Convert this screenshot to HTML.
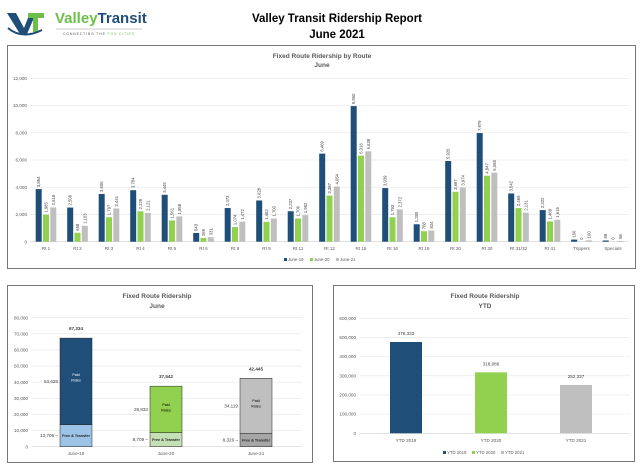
<!DOCTYPE html>
<html><head><meta charset="utf-8"><style>
html,body{margin:0;padding:0;background:#fff;}
svg{display:block;font-family:"Liberation Sans",sans-serif;}
</style></head><body>
<svg id="s" width="640" height="466" viewBox="0 0 640 466" xmlns="http://www.w3.org/2000/svg">
<g>
 <path d="M7 13 L16 13 L24 28 L30 13 L36 13 L27 34 L20 34 Z" fill="#1f4e79"/>
 <path d="M28 13 L44 13 L44 18 L38 18 L38 32 L33 32 L33 18 L28 18 Z" fill="#6cc04a"/>
 <path d="M8 28 Q22 40 42 30" stroke="#1f4e79" stroke-width="2" fill="none"/>
 <text x="55" y="23" font-size="15" font-weight="bold" fill="#6cc04a">Valley<tspan fill="#1f4e79">Transit</tspan></text>
 <line x1="56" y1="29" x2="142" y2="29" stroke="#999" stroke-width="0.5"/>
 <text x="99" y="35" font-size="3.5" fill="#555" text-anchor="middle" letter-spacing="0.8">CONNECTING THE <tspan fill="#6cc04a">FOX CITIES</tspan></text>
</g>
<text x="337" y="22" font-size="11.5" font-weight="bold" text-anchor="middle" fill="#000">Valley Transit Ridership Report</text>
<text x="337" y="38" font-size="11.5" font-weight="bold" text-anchor="middle" fill="#000">June 2021</text>

<rect x="7.5" y="45.5" width="628" height="223" fill="#fff" stroke="#777"/>
<text x="322" y="58" font-size="6.5" font-weight="bold" fill="#595959" text-anchor="middle">Fixed Route Ridership by Route</text>
<text x="322" y="67" font-size="6.5" font-weight="bold" fill="#595959" text-anchor="middle">June</text>
<g id="top"></g>

<rect x="7.5" y="285.5" width="305" height="177" fill="#fff" stroke="#777"/>
<text x="157" y="298" font-size="6.5" font-weight="bold" fill="#595959" text-anchor="middle">Fixed Route Ridership</text>
<text x="157" y="308" font-size="6.5" font-weight="bold" fill="#595959" text-anchor="middle">June</text>
<g id="bl"></g>

<rect x="333.5" y="285.5" width="301" height="176" fill="#fff" stroke="#777"/>
<text x="485" y="298" font-size="6.5" font-weight="bold" fill="#595959" text-anchor="middle">Fixed Route Ridership</text>
<text x="485" y="308" font-size="6.5" font-weight="bold" fill="#595959" text-anchor="middle">YTD</text>
<g id="br"></g>
</svg>
<script>
const routes=["Rt 1","Rt 2","Rt 3","Rt 4","Rt 5","Rt 6","Rt 8","Rt 9","Rt 11","Rt 12","Rt 15","Rt 16","Rt 19","Rt 20","Rt 30","Rt 31/32","Rt 41","Trippers","Specials"];
const june19=[3864,2508,3506,3784,3445,643,2472,3028,2237,6469,9960,3939,1280,5926,7979,3542,2322,156,89];
const june20=[1985,658,1797,2229,1561,269,1074,1462,1706,3387,6316,1793,768,3667,4847,2469,1489,0,0];
const june21=[2518,1163,2441,2121,1858,331,1472,1700,1952,4054,6638,2372,824,3974,5068,2131,1615,100,58];
const routeTicks=[0,2000,4000,6000,8000,10000,12000];
const seriesNames=["June-19","June-20","June-21"];

const monthCats=["June-19","June-20","June-21"];
const freeRides=[13706,8709,8326];
const paidRides=[53628,28833,34119];
const monthTicks=[0,10000,20000,30000,40000,50000,60000,70000,80000];

const ytdCats=["YTD 2019","YTD 2020","YTD 2021"];
const ytdValues=[476333,318086,252337];
const ytdTicks=[0,100000,200000,300000,400000,500000,600000];

const NS="http://www.w3.org/2000/svg";
const cols=["#1f4e79","#92d050","#bfbfbf"];
const fmt=v=>v.toLocaleString("en-US");
function mk(p,t,a,txt){const e=document.createElementNS(NS,t);for(const k in a)e.setAttribute(k,a[k]);if(txt!==undefined)e.textContent=txt;p.appendChild(e);return e;}

(function(){
 const g=document.getElementById("top");
 const y0=241.7,yTop=78.3,max=12000,L=30.25,R=628.75,bw=(R-L)/routes.length;
 const y=v=>y0-(v/max)*(y0-yTop);
 routeTicks.forEach(t=>{
  const l=mk(g,"line",{x1:L,x2:R,y1:y(t),y2:y(t),stroke:t?"#e4e4e4":"#d0d0d0","stroke-width":0.6});
  
  
  const tx=mk(g,"text",{x:27,y:y(t)+1.6,"font-size":4.6,fill:"#595959","text-anchor":"end"},fmt(t));
  
  
 });
 const data=[june19,june20,june21];
 routes.forEach((r,i)=>{
  const c=L+bw*(i+0.5);
  data.forEach((s,k)=>{
   const w=6,x=c+(k-1)*7.3-w/2,v=s[i];
   const b=mk(g,"rect",{x:x,y:y(v),width:w,height:y0-y(v),fill:cols[k]});
   
   
   const tx=mk(g,"text",{transform:`translate(${x+w/2+1.5},${y(v)-2}) rotate(-90)`,"font-size":4.2,fill:"#404040"},fmt(v));
   
   
  });
  const tl=mk(g,"text",{x:c,y:250,"font-size":4.6,fill:"#595959","text-anchor":"middle"},r);
  
  
 });
 seriesNames.forEach((n,k)=>{
  const x=284+k*26;
  const sq=mk(g,"rect",{x:x,y:258,width:3,height:3,fill:cols[k]});
  
  
  const t=mk(g,"text",{x:x+4,y:261,"font-size":4.3,fill:"#595959"},n);
  
  
 });
})();

(function(){
 const g=document.getElementById("bl");
 const y0=446.7,yTop=317.7,max=80000,L=32,R=302;
 const y=v=>y0-(v/max)*(y0-yTop);
 const centers=[76,166,256];
 const paidCol=["#1f4e79","#92d050","#bfbfbf"],freeCol=["#9dc3e6","#c5e0b4","#a6a6a6"],paidTxt=["#fff","#000","#000"];
 monthTicks.forEach(t=>{
  const l=mk(g,"line",{x1:L,x2:R,y1:y(t),y2:y(t),stroke:t?"#e4e4e4":"#d0d0d0","stroke-width":0.6});
  
  
  const tx=mk(g,"text",{x:28,y:y(t)+1.6,"font-size":4.6,fill:"#595959","text-anchor":"end"},fmt(t));
  
  
 });
 monthCats.forEach((c,i)=>{
  const cx=centers[i],w=32,x=cx-w/2,f=freeRides[i],p=paidRides[i],tot=f+p;
  const fr=mk(g,"rect",{x:x,y:y(f),width:w,height:y0-y(f),fill:freeCol[i],stroke:"#222","stroke-width":0.5});
  
  
  const pr=mk(g,"rect",{x:x,y:y(tot),width:w,height:y(f)-y(tot),fill:paidCol[i],stroke:"#222","stroke-width":0.5});
  
  
  const ft=mk(g,"text",{x:cx,y:(y(f)+y0)/2+1.5,"font-size":3.8,"font-weight":"bold",fill:"#222","text-anchor":"middle"},"Free & Transfer");
  
  
  const pm=y(f)-(y(f)-y(tot))*0.55;
  const p1=mk(g,"text",{x:cx,y:pm-1,"font-size":3.8,fill:paidTxt[i],"text-anchor":"middle"},"Paid");
  
  
  const p2=mk(g,"text",{x:cx,y:pm+4.5,"font-size":3.8,fill:paidTxt[i],"text-anchor":"middle"},"Rides");
  
  
  const tt=mk(g,"text",{x:cx,y:y(tot)-8,"font-size":4.6,"font-weight":"bold",fill:"#404040","text-anchor":"middle"},fmt(tot));
  
  
  const pl=mk(g,"text",{x:x-2,y:(y(f)+y(tot))/2+1.5,"font-size":4.6,fill:"#404040","text-anchor":"end"},fmt(p));
  
  
  const fl=mk(g,"text",{x:x-2,y:Math.min((y(f)+y0)/2+1.5,y0-2),"font-size":4.6,fill:"#404040","text-anchor":"end"},fmt(f)+" \u2013");
  
  
  const xl=mk(g,"text",{x:cx,y:455,"font-size":4.6,fill:"#595959","text-anchor":"middle"},c);
  
  
 });
})();

(function(){
 const g=document.getElementById("br");
 const y0=433.3,yTop=318.3,max=600000,L=360,R=630;
 const y=v=>y0-(v/max)*(y0-yTop);
 const centers=[406,491,576];
 ytdTicks.forEach(t=>{
  const l=mk(g,"line",{x1:L,x2:R,y1:y(t),y2:y(t),stroke:t?"#e4e4e4":"#d0d0d0","stroke-width":0.6});
  
  
  const tx=mk(g,"text",{x:356,y:y(t)+1.6,"font-size":4.6,fill:"#595959","text-anchor":"end"},fmt(t));
  
  
 });
 ytdCats.forEach((c,i)=>{
  const cx=centers[i],w=32,v=ytdValues[i];
  const b=mk(g,"rect",{x:cx-w/2,y:y(v),width:w,height:y0-y(v),fill:cols[i]});
  
  
  const t=mk(g,"text",{x:cx,y:y(v)-7,"font-size":4.6,fill:"#404040","text-anchor":"middle"},fmt(v));
  
  
  const xl=mk(g,"text",{x:cx,y:442,"font-size":4.6,fill:"#595959","text-anchor":"middle"},c);
  
  
  const lx=443+i*29;
  const sq=mk(g,"rect",{x:lx,y:451,width:3,height:3,fill:cols[i]});
  
  
  const lt=mk(g,"text",{x:lx+4,y:454,"font-size":4.3,fill:"#595959"},c);
  
  
 });
})();
</script>
</body></html>
